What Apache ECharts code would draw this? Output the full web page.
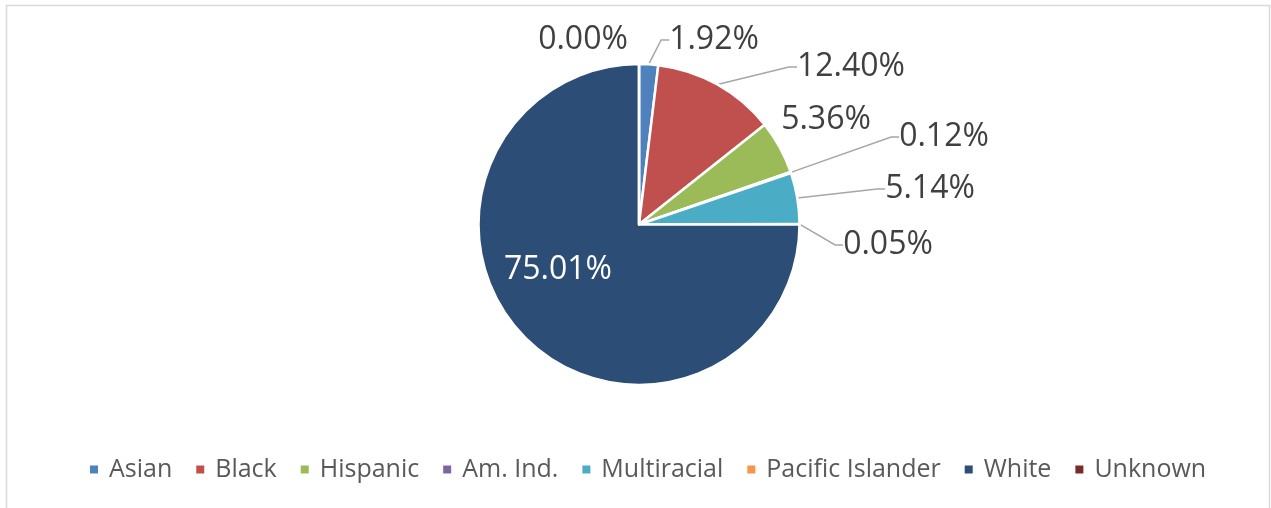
<!DOCTYPE html>
<html>
<head>
<meta charset="utf-8">
<script src="https://cdn.jsdelivr.net/npm/echarts@6/dist/echarts.min.js"></script>
<style>
  html, body { margin: 0; padding: 0; background: #fff; }
  #chart { width: 1271px; height: 508px; }
</style>
</head>
<body>
<div id="chart"></div>
<script>
// data
const categories = ['Asian', 'Black', 'Hispanic', 'Am. Ind.', 'Multiracial', 'Pacific Islander', 'White', 'Unknown']
const shares = [1.92, 12.40, 5.36, 0.12, 5.14, 0.05, 75.01, 0.00]
const colors = ['#4f81bd', '#c0504d', '#9bbb59', '#8064a2', '#4bacc6', '#f79646', '#2c4d75', '#772c2a']

const chart = echarts.init(document.getElementById('chart'))

// label spots (pixel centres, like excel puts them)
const labelSpots = {
  0: [714, 40],
  1: [851, 67],
  2: [826, 120],
  3: [944, 137],
  4: [930, 189],
  5: [888, 245],
  6: [558, 270],
  7: [583, 40]
}
const noLine = [2, 6, 7]

const seriesData = categories.map((name, i) => ({
  name: name,
  value: shares[i],
  itemStyle: { color: colors[i] },
  labelLine: { show: noLine.indexOf(i) < 0 },
  label: i === 6 ? { position: 'inside', color: '#ffffff' } : {}
}))

chart.setOption({
  animation: false,
  graphic: [{
    type: 'rect',
    shape: { x: 6.5, y: 5.5, width: 1263, height: 530 },
    style: { fill: 'none', stroke: '#d9d9d9', lineWidth: 1.5 },
    silent: true
  }],
  legend: {
    top: 452,
    left: 83,
    icon: 'rect',
    itemWidth: 10,
    itemHeight: 10,
    itemGap: 22,
    textStyle: { fontFamily: 'Open Sans', fontSize: 25, color: '#595959', padding: [0, 0, 0, 5] },
    data: categories
  },
  series: [{
    type: 'pie',
    center: [639, 224.5],
    radius: 160.5,
    startAngle: 90,
    clockwise: true,
    avoidLabelOverlap: false,
    itemStyle: { borderColor: '#ffffff', borderWidth: 2.5 },
    label: {
      show: true,
      position: 'outside',
      formatter: p => p.value.toFixed(2) + '%',
      fontFamily: 'Open Sans',
      fontSize: 32,
      color: '#404040'
    },
    labelLine: {
      show: true,
      length: 10,
      length2: 8,
      lineStyle: { color: '#a6a6a6', width: 1.5 }
    },
    labelLayout: p => {
      const s = labelSpots[p.dataIndex]
      return { x: s[0], y: s[1], align: 'center', verticalAlign: 'middle' }
    },
    data: seriesData
  }]
})
</script>
</body>
</html>
